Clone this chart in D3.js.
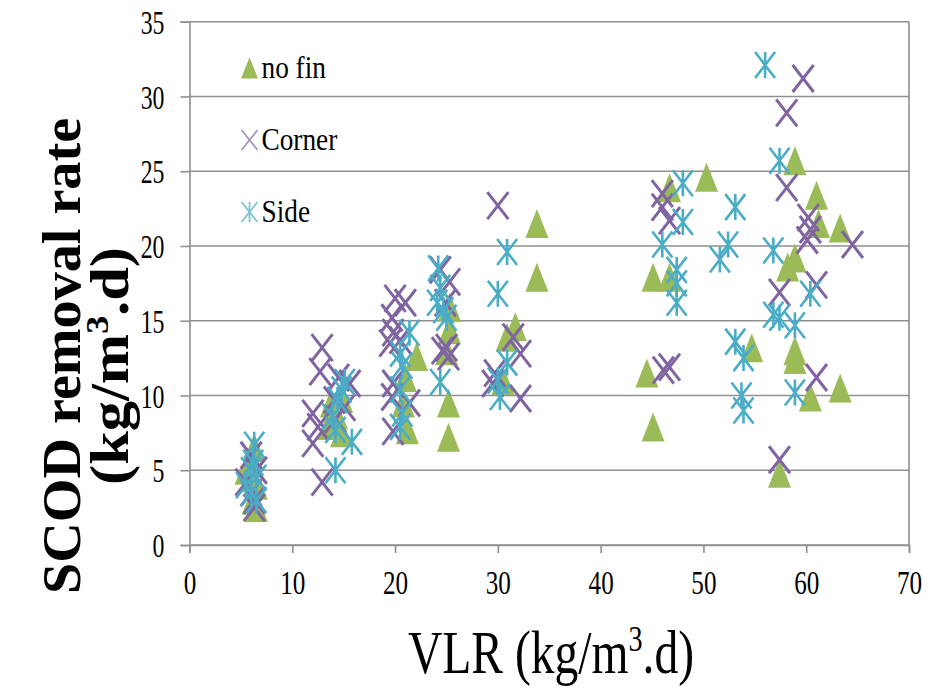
<!DOCTYPE html>
<html>
<head>
<meta charset="utf-8">
<script src="https://cdn.jsdelivr.net/npm/d3@7"></script>
<style>
  body { margin: 0; background: #fff; }
  text { font-family: "Liberation Serif", "Times New Roman", serif; fill: #000; }
</style>
</head>
<body>
<svg></svg>
<script>
// data
var noFinX = [5.5,6.0,6.2,6.5,6.3,5.8,6.5, 13.8,14.3,14.8,13.5,14.8, 22.1,21.0,20.8,21.2,
  25.3,25.3,25.2,25.2,25.0, 33.8,33.8,31.7,30.9,30.5, 44.5,45.1,45.1,46.7,46.7,50.3, 54.7,
  58.9,61.0,61.2,63.3,58.9,58.2,58.9,58.9,60.4,63.3,57.4];
var noFinY = [5.0,4.5,3.0,2.5,6.5,5.5,4.0, 9.5,8.7,7.5,8.0,9.8, 12.6,11.2,9.5,7.7,
  15.9,14.4,9.5,7.2,13.0, 21.5,17.9,14.6,13.9,11.0, 11.5,7.9,17.9,17.9,23.9,24.6, 13.2,
  25.7,23.4,21.5,21.2,19.2,18.6,13.0,12.4,9.9,10.5,4.8];

var cornerX = [5.5,6.0,6.3,6.5,6.0,6.3, 12.9,12.7,14.5,15.6,12.0,12.5,12.0,12.9,14.2,15.1,14.1,
  20.0,21.0,19.7,19.8,19.5,20.5,19.8,19.7,19.8,21.4, 24.4,25.3,24.9,25.0,25.2,24.6,
  30.0,31.5,32.2,32.2,29.7,29.5, 46.0,46.0,46.7,46.1,46.7,
  59.7,58.1,58.1,60.2,60.4,64.5,60.1,57.4,61.0,61.0,57.4];
var cornerY = [4.2,3.5,2.5,5.0,6.0,3.0, 13.2,11.6,11.2,10.8,8.8,7.9,6.8,4.2,8.4,9.2,9.7,
  16.5,16.2,15.2,14.2,13.5,13.7,10.8,9.9,7.6,9.5, 18.4,17.6,16.2,13.2,12.6,13.0,
  22.7,13.9,12.8,9.8,11.5,10.8, 23.5,22.6,21.7,11.7,11.9,
  31.2,28.9,23.9,21.9,21.1,20.1,20.4,16.9,17.4,11.2,5.7];

var sideX = [5.5,6.0,6.3,6.5,6.0,6.2,6.5, 14.8,14.4,14.2,15.8,14.2,15.1,13.9,
  21.4,20.5,20.7,20.5,20.7,20.5, 24.2,24.4,24.1,24.7,25.0,24.4, 30.9,30.0,30.9,30.0,30.2,
  48.0,48.0,46.0,47.4,47.4,47.4, 53.1,51.6,52.4,53.1,53.9,53.7,53.9,
  56.0,57.4,56.8,60.4,56.8,57.4,58.9,58.9];
var sideY = [4.0,5.0,6.7,4.5,3.5,5.5,3.0, 10.4,9.7,7.7,6.9,5.0,10.9,8.6,
  14.2,12.8,12.0,10.4,8.8,7.9, 18.5,17.2,16.2,15.7,15.2,10.9, 19.6,16.8,12.2,11.0,9.9,
  24.2,21.6,20.1,18.4,17.5,16.2, 22.6,19.1,20.1,13.6,12.5,10.0,9.0,
  32.1,25.7,19.7,16.8,15.4,15.2,14.7,10.2];

var seriesNames = ["no fin", "Corner", "Side"];
var xTicks = [0,10,20,30,40,50,60,70];
var yTicks = [0,5,10,15,20,25,30,35];

var svgWidth = 927, svgHeight = 691;
var plotLeft = 189.5, plotRight = 909, plotTop = 21.7, plotBottom = 545;

var svg = d3.select("svg")
  .attr("width", svgWidth)
  .attr("height", svgHeight);

var xScale = d3.scaleLinear().domain([0,70]).range([plotLeft,plotRight]);
var yScale = d3.scaleLinear().domain([0,35]).range([plotBottom,plotTop]);

var gridColor = "#8f8f8f";

// horizontal gridlines
svg.append("g").selectAll("line")
  .data(yTicks)
  .enter()
  .append("line")
  .attr("x1", plotLeft).attr("x2", plotRight)
  .attr("y1", function(d){ return yScale(d); })
  .attr("y2", function(d){ return yScale(d); })
  .attr("stroke", gridColor)
  .attr("stroke-width", 1.6);

// right border
svg.append("line")
  .attr("x1", plotRight).attr("x2", plotRight)
  .attr("y1", plotTop).attr("y2", plotBottom)
  .attr("stroke", gridColor).attr("stroke-width", 1.6);

var y_axis = d3.axisLeft(yScale).tickValues(yTicks).tickSize(9).tickPadding(0);
var gy = svg.append("g")
  .attr("transform", "translate(" + plotLeft + ",0)")
  .call(y_axis);

var x_axis = d3.axisBottom(xScale).tickValues(xTicks).tickSize(8).tickPadding(0);
var gx = svg.append("g")
  .attr("transform", "translate(0," + plotBottom + ")")
  .call(x_axis);

[gx, gy].forEach(function(g){
  g.select(".domain").attr("stroke", gridColor).attr("stroke-width", 1.6);
  g.selectAll(".tick line").attr("stroke", gridColor).attr("stroke-width", 1.6);
  g.selectAll(".tick text")
    .style("font-family", "Liberation Serif")
    .style("font-size", "34px")
    .attr("fill", "#000");
});

var sq = 0.7;
gy.selectAll(".tick text")
  .attr("x", -25 / sq)
  .attr("dy", "0.34em")
  .attr("transform", "scale(" + sq + ",1)");
gx.selectAll(".tick text")
  .attr("y", 25)
  .attr("dy", "0.71em")
  .attr("transform", "scale(" + 0.74 + ",1)");

// markers
var colors = ["#9bbb59", "#8064a2", "#4bacc6"];

function triPath(w, h) {
  return "M0," + (-h/2) + "L" + (w/2) + "," + (h/2) + "L" + (-w/2) + "," + (h/2) + "Z";
}
function crossPath(w, h) {
  return "M" + (-w/2) + "," + (-h/2) + "L" + (w/2) + "," + (h/2) +
         "M" + (w/2) + "," + (-h/2) + "L" + (-w/2) + "," + (h/2);
}
function starPath(w, h) {
  return crossPath(w, h) + "M0," + (-h/2) + "L0," + (h/2);
}

function pairs(xs, ys) {
  return xs.map(function(v, i){ return [v, ys[i]]; });
}

svg.append("g").selectAll("path")
  .data(pairs(noFinX, noFinY))
  .enter()
  .append("path")
  .attr("d", triPath(23, 29))
  .attr("fill", colors[0])
  .attr("transform", function(d){ return "translate(" + xScale(d[0]) + "," + yScale(d[1]) + ")"; });

svg.append("g").selectAll("path")
  .data(pairs(cornerX, cornerY))
  .enter()
  .append("path")
  .attr("d", crossPath(21, 27))
  .attr("fill", "none")
  .attr("stroke", colors[1])
  .attr("stroke-width", 3)
  .attr("transform", function(d){ return "translate(" + xScale(d[0]) + "," + yScale(d[1]) + ")"; });

svg.append("g").selectAll("path")
  .data(pairs(sideX, sideY))
  .enter()
  .append("path")
  .attr("d", starPath(20, 26))
  .attr("fill", "none")
  .attr("stroke", colors[2])
  .attr("stroke-width", 2.6)
  .attr("transform", function(d){ return "translate(" + xScale(d[0]) + "," + yScale(d[1]) + ")"; });

// legend
var legendPaths = [triPath(17, 21), crossPath(16, 20), starPath(16, 20)];
var legend = svg.append("g").selectAll("g")
  .data(seriesNames)
  .enter()
  .append("g")
  .attr("transform", function(d, i){ return "translate(249.5," + (68 + i * 72) + ")"; });

legend.append("path")
  .attr("d", function(d, i){ return legendPaths[i]; })
  .attr("fill", function(d, i){ return i == 0 ? colors[0] : "none"; })
  .attr("stroke", function(d, i){ return i == 0 ? "none" : (i == 1 ? "#a592c0" : "#7cc4d8"); })
  .attr("stroke-width", 1.8);

legend.append("text")
  .attr("transform", "translate(12,10) scale(0.88,1)")
  .style("font-size", "31px")
  .text(function(d){ return d; });

// axis titles (superscript shift given in px so the baseline comes back exactly)
var xt = svg.append("text")
  .attr("transform", "translate(551,673) scale(0.78,1)")
  .attr("text-anchor", "middle")
  .style("font-size", "61px");
xt.append("tspan").text("VLR (kg/m");
xt.append("tspan").attr("dy", -22).style("font-size", "36px").text("3");
xt.append("tspan").attr("dy", 22).text(".d)");

var yt1 = svg.append("text")
  .attr("transform", "translate(80,356) scale(1,1.04) rotate(-90)")
  .attr("text-anchor", "middle")
  .style("font-size", "54px")
  .style("font-weight", "bold")
  .text("SCOD removal rate");

var yt2 = svg.append("text")
  .attr("transform", "translate(128,366) scale(1,1.12) rotate(-90)")
  .attr("text-anchor", "middle")
  .style("font-size", "54px")
  .style("font-weight", "bold");
yt2.append("tspan").text("(kg/m");
yt2.append("tspan").attr("dy", -20).style("font-size", "32px").text("3");
yt2.append("tspan").attr("dy", 20).text(".d)");
</script>
</body>
</html>
